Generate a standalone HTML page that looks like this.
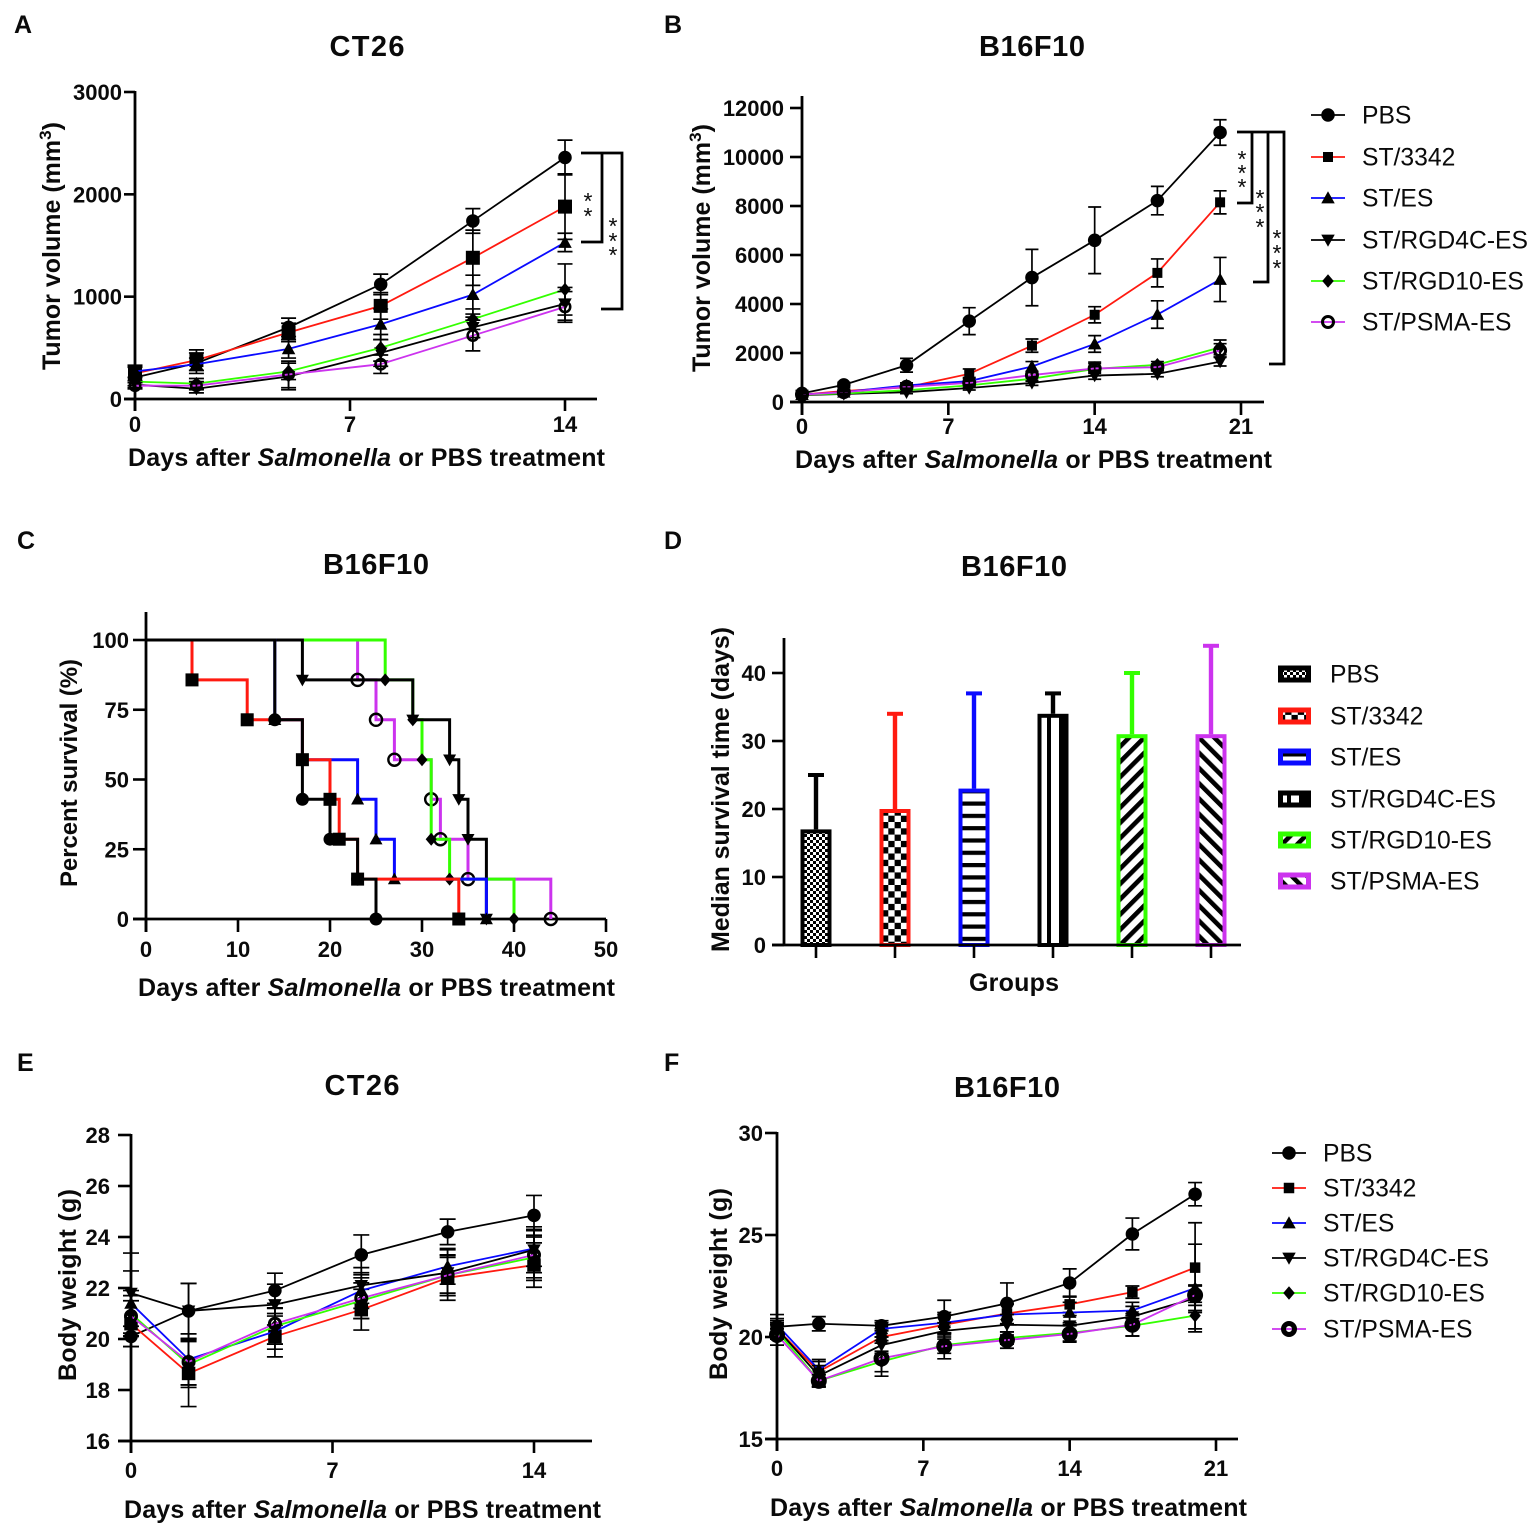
<!DOCTYPE html>
<html lang="en">
<head>
<meta charset="utf-8">
<title>Tumor growth, survival and body weight panels</title>
<style>
html,body{margin:0;padding:0;background:#fff;}
#figure{display:block;width:1535px;height:1528px;}
text{font-family:"Liberation Sans",Arial,sans-serif;fill:#0a0a0a;}
.letter{font-size:25px;font-weight:700;}
.title{font-size:29px;font-weight:700;text-anchor:middle;}
.axt{font-size:25px;font-weight:700;}
.tick{font-size:22px;font-weight:700;}
.leg{font-size:24.7px;}
.star{font-size:23px;text-anchor:middle;}
</style>
</head>
<body>
<svg id="figure" xmlns="http://www.w3.org/2000/svg" width="1535" height="1528" viewBox="0 0 1535 1528">
<defs>
<pattern id="p-fine" patternUnits="userSpaceOnUse" width="6" height="6"><rect width="6" height="6" fill="#fff"/><rect width="3" height="3" fill="#000"/><rect x="3" y="3" width="3" height="3" fill="#000"/></pattern>
<pattern id="p-check" patternUnits="userSpaceOnUse" width="12.6" height="12.6" x="882" y="3"><rect width="12.6" height="12.6" fill="#fff"/><rect width="6.3" height="6.3" fill="#000"/><rect x="6.3" y="6.3" width="6.3" height="6.3" fill="#000"/></pattern>
<pattern id="p-hor" patternUnits="userSpaceOnUse" width="12" height="12.3" y="2"><rect width="12" height="12.3" fill="#fff"/><rect width="12" height="4.2" fill="#000"/></pattern>
<pattern id="p-ver" patternUnits="userSpaceOnUse" width="40" height="10" x="1041"><rect width="40" height="10" fill="#fff"/><rect x="6" width="4" height="10" fill="#000"/><rect x="18" width="9" height="10" fill="#000"/></pattern>
<pattern id="p-up" patternUnits="userSpaceOnUse" width="10.8" height="10.8" patternTransform="rotate(45)"><rect width="10.8" height="10.8" fill="#fff"/><rect width="4.6" height="10.8" fill="#000"/></pattern>
<pattern id="p-down" patternUnits="userSpaceOnUse" width="10.8" height="10.8" patternTransform="rotate(-45)"><rect width="10.8" height="10.8" fill="#fff"/><rect width="4.6" height="10.8" fill="#000"/></pattern>
</defs>

<g id="static-text">
<text class="letter" x="14" y="33">A</text>
<text class="letter" x="664" y="33">B</text>
<text class="letter" x="17" y="549">C</text>
<text class="letter" x="664" y="549">D</text>
<text class="letter" x="17" y="1071">E</text>
<text class="letter" x="664" y="1071">F</text>

<text class="title" x="367" y="56" textLength="75">CT26</text>
<text class="title" x="1032" y="56" textLength="106">B16F10</text>
<text class="title" x="376" y="574" textLength="106">B16F10</text>
<text class="title" x="1014" y="576" textLength="106">B16F10</text>
<text class="title" x="362" y="1095" textLength="75">CT26</text>
<text class="title" x="1007" y="1097" textLength="106">B16F10</text>

<text class="axt" x="128" y="466" textLength="477">Days after <tspan font-style="italic">Salmonella</tspan> or PBS treatment</text>
<text class="axt" x="795" y="468" textLength="477">Days after <tspan font-style="italic">Salmonella</tspan> or PBS treatment</text>
<text class="axt" x="138" y="996" textLength="477">Days after <tspan font-style="italic">Salmonella</tspan> or PBS treatment</text>
<text class="axt" x="969" y="991" textLength="90">Groups</text>
<text class="axt" x="124" y="1518" textLength="477">Days after <tspan font-style="italic">Salmonella</tspan> or PBS treatment</text>
<text class="axt" x="770" y="1516" textLength="477">Days after <tspan font-style="italic">Salmonella</tspan> or PBS treatment</text>

<text class="axt" style="font-size:25px" transform="translate(60,370) rotate(-90)">Tumor volume (mm<tspan dy="-9" font-size="17">3</tspan><tspan dy="9">)</tspan></text>
<text class="axt" style="font-size:25px" transform="translate(710,372) rotate(-90)">Tumor volume (mm<tspan dy="-9" font-size="17">3</tspan><tspan dy="9">)</tspan></text>
<text class="axt" transform="translate(77,887) rotate(-90)" textLength="228" style="font-size:24px">Percent survival (%)</text>
<text class="axt" transform="translate(729,952) rotate(-90)" textLength="325">Median survival time (days)</text>
<text class="axt" transform="translate(76,1381) rotate(-90)" textLength="192">Body weight (g)</text>
<text class="axt" transform="translate(727,1380) rotate(-90)" textLength="192">Body weight (g)</text>

<text class="star" x="588" y="209">*</text>
<text class="star" x="588" y="224">*</text>
<text class="star" x="613" y="234">*</text>
<text class="star" x="613" y="249">*</text>
<text class="star" x="613" y="263">*</text>
<text class="star" x="1242" y="167">*</text>
<text class="star" x="1242" y="181">*</text>
<text class="star" x="1242" y="195">*</text>
<text class="star" x="1260" y="206">*</text>
<text class="star" x="1260" y="220">*</text>
<text class="star" x="1260" y="235">*</text>
<text class="star" x="1277" y="246">*</text>
<text class="star" x="1277" y="261">*</text>
<text class="star" x="1277" y="276">*</text>

<path d="M581 153H622V309H601M602 153V242H581" fill="none" stroke="#000" stroke-width="2.8"/>
<path d="M1237 132H1284V364H1269M1268 132V282H1253M1252 132V203H1237" fill="none" stroke="#000" stroke-width="2.8"/>
</g>

<g id="plot-root"></g>
</svg>

<script>
/* ---------- shared series labels ---------- */
const seriesNames = ['PBS', 'ST/3342', 'ST/ES', 'ST/RGD4C-ES', 'ST/RGD10-ES', 'ST/PSMA-ES'];

/* ---------- panel A: CT26 tumor volume ---------- */
const aDays = [0, 2, 5, 8, 11, 14];
const aXTicks = [0, 7, 14];
const aYTicks = [0, 1000, 2000, 3000];
const aPbs = [210, 350, 700, 1120, 1740, 2360];
const aSt3342 = [250, 380, 650, 910, 1380, 1880];
const aStEs = [270, 340, 490, 730, 1020, 1530];
const aRgd4c = [140, 100, 220, 450, 700, 930];
const aRgd10 = [170, 150, 270, 500, 780, 1070];
const aPsma = [130, 130, 240, 340, 620, 900];
const aPbsErr = [100, 100, 90, 100, 120, 170];
const aSt3342Err = [70, 100, 90, 130, 270, 320];
const aStEsErr = [60, 60, 90, 150, 190, 90];
const aRgd4cErr = [40, 40, 130, 130, 100, 160];
const aRgd10Err = [40, 50, 80, 130, 100, 250];
const aPsmaErr = [30, 40, 130, 90, 150, 150];

/* ---------- panel B: B16F10 tumor volume ---------- */
const bDays = [0, 2, 5, 8, 11, 14, 17, 20];
const bXTicks = [0, 7, 14, 21];
const bYTicks = [0, 2000, 4000, 6000, 8000, 10000, 12000];
const bPbs = [350, 700, 1500, 3300, 5080, 6600, 8220, 11000];
const bSt3342 = [300, 450, 600, 1150, 2300, 3560, 5270, 8150];
const bStEs = [300, 400, 680, 850, 1450, 2370, 3570, 5000];
const bRgd4c = [280, 330, 400, 570, 780, 1080, 1150, 1650];
const bRgd10 = [300, 350, 480, 680, 950, 1350, 1520, 2230];
const bPsma = [300, 400, 620, 780, 1100, 1370, 1420, 2100];
const bPbsErr = [100, 100, 280, 550, 1150, 1360, 580, 520];
const bSt3342Err = [50, 60, 100, 200, 270, 330, 570, 470];
const bStEsErr = [50, 60, 100, 150, 200, 340, 560, 900];
const bRgd4cErr = [40, 40, 60, 80, 100, 150, 120, 180];
const bRgd10Err = [40, 40, 60, 80, 100, 280, 130, 300];
const bPsmaErr = [40, 40, 60, 80, 100, 200, 130, 280];

/* ---------- panel C: survival (event day, percent after event) ---------- */
const cXTicks = [0, 10, 20, 30, 40, 50];
const cYTicks = [0, 25, 50, 75, 100];
const cPbsDays = [14, 17, 20, 23, 25];
const cPbsSurv = [71.4, 42.9, 28.6, 14.3, 0];
const cSt3342Days = [5, 11, 17, 20, 21, 23, 34];
const cSt3342Surv = [85.7, 71.4, 57.1, 42.9, 28.6, 14.3, 0];
const cStEsDays = [14, 17, 23, 25, 27, 37];
const cStEsSurv = [71.4, 57.1, 42.9, 28.6, 14.3, 0];
const cRgd4cDays = [17, 29, 33, 34, 35, 37];
const cRgd4cSurv = [85.7, 71.4, 57.1, 42.9, 28.6, 0];
const cRgd10Days = [26, 29, 30, 31, 33, 40];
const cRgd10Surv = [85.7, 71.4, 57.1, 28.6, 14.3, 0];
const cPsmaDays = [23, 25, 27, 31, 32, 35, 44];
const cPsmaSurv = [85.7, 71.4, 57.1, 42.9, 28.6, 14.3, 0];

/* ---------- panel D: median survival bars ---------- */
const dYTicks = [0, 10, 20, 30, 40];
const dMedians = [17, 20, 23, 34, 31, 31];
const dUpperErr = [8, 14, 14, 3, 9, 13];

/* ---------- panel E: CT26 body weight ---------- */
const eDays = [0, 2, 5, 8, 11, 14];
const eXTicks = [0, 7, 14];
const eYTicks = [16, 18, 20, 22, 24, 26, 28];
const ePbs = [20.1, 21.1, 21.9, 23.3, 24.2, 24.85];
const eSt3342 = [20.6, 18.65, 20.1, 21.15, 22.4, 22.9];
const eStEs = [21.4, 19.2, 20.3, 21.9, 22.85, 23.55];
const eRgd4c = [21.8, 21.1, 21.35, 22.1, 22.6, 23.5];
const eRgd10 = [21.0, 19.0, 20.5, 21.5, 22.5, 23.2];
const ePsma = [20.9, 19.1, 20.6, 21.6, 22.5, 23.3];
const ePbsErr = [0.4, 1.08, 0.68, 0.78, 0.5, 0.78];
const eSt3342Err = [0.9, 1.3, 0.8, 0.8, 0.88, 0.87];
const eStEsErr = [1.27, 1.0, 0.7, 0.7, 0.7, 0.7];
const eRgd4cErr = [1.57, 1.08, 0.8, 0.7, 0.9, 0.9];
const eRgd10Err = [0.9, 0.9, 0.7, 0.7, 0.7, 0.8];
const ePsmaErr = [0.8, 0.9, 0.8, 0.8, 0.8, 1.0];

/* ---------- panel F: B16F10 body weight ---------- */
const fDays = [0, 2, 5, 8, 11, 14, 17, 20];
const fXTicks = [0, 7, 14, 21];
const fYTicks = [15, 20, 25, 30];
const fPbs = [20.5, 20.65, 20.55, 21.0, 21.65, 22.65, 25.05, 27.0];
const fSt3342 = [20.4, 18.3, 20.0, 20.6, 21.15, 21.6, 22.2, 23.4];
const fStEs = [20.6, 18.4, 20.4, 20.7, 21.1, 21.2, 21.3, 22.4];
const fRgd4c = [20.4, 18.1, 19.6, 20.3, 20.6, 20.55, 21.0, 21.9];
const fRgd10 = [20.3, 17.85, 18.8, 19.6, 19.95, 20.2, 20.55, 21.05];
const fPsma = [20.1, 17.85, 18.95, 19.55, 19.85, 20.15, 20.6, 22.05];
const fPbsErr = [0.1, 0.35, 0.15, 0.8, 1.0, 0.69, 0.78, 0.57];
const fSt3342Err = [0.4, 0.5, 0.3, 0.5, 0.5, 0.4, 0.3, 2.2];
const fStEsErr = [0.5, 0.5, 0.4, 0.5, 0.5, 0.5, 0.4, 2.15];
const fRgd4cErr = [0.5, 0.5, 0.4, 0.4, 0.5, 0.5, 0.5, 0.6];
const fRgd10Err = [0.4, 0.3, 0.5, 0.4, 0.3, 0.4, 0.5, 0.65];
const fPsmaErr = [0.5, 0.3, 0.87, 0.62, 0.4, 0.4, 0.55, 0.5];

/* ---------- styling (not data) ---------- */
const lineColors = ['#000000', '#ff1a10', '#0a0aff', '#000000', '#33ff00', '#cc33ee'];
const markerKinds = ['circle', 'square', 'up', 'down', 'diamond', 'ring'];
const barPatterns = ['p-fine', 'p-check', 'p-hor', 'p-ver', 'p-up', 'p-down'];
const NS = 'http://www.w3.org/2000/svg';
const plotRoot = document.getElementById('plot-root');

function make(tag, attrs, parent) {
  const el = document.createElementNS(NS, tag);
  for (const k in attrs) el.setAttribute(k, attrs[k]);
  parent.appendChild(el);
  return el;
}

function linearScale(d0, r0, d1, r1) {
  return v => r0 + (v - d0) * (r1 - r0) / (d1 - d0);
}

function slug(s) {
  return s.toLowerCase().replace(/[^a-z0-9]+/g, '-');
}

function drawMarker(parent, kind, cx, cy, size, ringWidth, label) {
  const h = size / 2;
  let el;
  if (kind === 'circle') {
    el = make('circle', { cx: cx, cy: cy, r: h, fill: '#000' }, parent);
  } else if (kind === 'ring') {
    el = make('circle', { cx: cx, cy: cy, r: h - ringWidth / 2, fill: 'none', stroke: '#000', 'stroke-width': ringWidth }, parent);
  } else if (kind === 'square') {
    el = make('rect', { x: cx - h, y: cy - h, width: size, height: size, fill: '#000' }, parent);
  } else if (kind === 'up') {
    el = make('path', { d: 'M' + cx + ' ' + (cy - h) + 'L' + (cx + h) + ' ' + (cy + h * 0.8) + 'L' + (cx - h) + ' ' + (cy + h * 0.8) + 'Z', fill: '#000' }, parent);
  } else if (kind === 'down') {
    el = make('path', { d: 'M' + cx + ' ' + (cy + h) + 'L' + (cx + h) + ' ' + (cy - h * 0.8) + 'L' + (cx - h) + ' ' + (cy - h * 0.8) + 'Z', fill: '#000' }, parent);
  } else {
    el = make('path', { d: 'M' + cx + ' ' + (cy - h) + 'L' + (cx + h * 0.85) + ' ' + cy + 'L' + cx + ' ' + (cy + h) + 'L' + (cx - h * 0.85) + ' ' + cy + 'Z', fill: '#000' }, parent);
  }
  
  
  return el;
}

function drawAxes(panel, opt) {
  const g = make('g', {}, plotRoot);
  
  
  const yAxis = make('line', { x1: opt.x0, x2: opt.x0, y1: opt.yTop, y2: opt.y0 + opt.xTickLen, stroke: '#000', 'stroke-width': 2.8 }, g);
  
  
  const xAxis = make('line', { x1: opt.x0 - opt.yTickLen, x2: opt.xEnd, y1: opt.y0, y2: opt.y0, stroke: '#000', 'stroke-width': 2.8 }, g);
  
  
  opt.yTicks.forEach(t => {
    const py = opt.sy(t);
    const tk = make('line', { x1: opt.x0 - opt.yTickLen, x2: opt.x0, y1: py, y2: py, stroke: '#000', 'stroke-width': 2.6 }, g);
    
    
    const lb = make('text', { x: opt.x0 - opt.yLabelGap, y: py + 8, 'text-anchor': 'end', class: 'tick' }, g);
    lb.textContent = t;
    
    
  });
  (opt.xTicks || []).forEach(t => {
    const px = opt.sx(t);
    const tk = make('line', { x1: px, x2: px, y1: opt.y0, y2: opt.y0 + opt.xTickLen, stroke: '#000', 'stroke-width': 2.6 }, g);
    
    
    const lb = make('text', { x: px, y: opt.y0 + opt.xLabelDy, 'text-anchor': 'middle', class: 'tick' }, g);
    lb.textContent = t;
    
    
  });
}

function drawLineSeries(panel, days, values, errors, sx, sy, look) {
  values.forEach((vals, i) => {
    const name = slug(seriesNames[i]);
    const g = make('g', {}, plotRoot);
    
    
    const pts = vals.map((v, j) => sx(days[j]) + ',' + sy(v)).join(' ');
    const line = make('polyline', { points: pts, fill: 'none', stroke: lineColors[i], 'stroke-width': look.lineWidth }, g);
    
    
    vals.forEach((v, j) => {
      const x = sx(days[j]);
      const top = sy(v + errors[i][j]);
      const bot = sy(v - errors[i][j]);
      const c = look.capWidth / 2;
      const eb = make('path', {
        d: 'M' + x + ' ' + top + 'V' + bot + 'M' + (x - c) + ' ' + top + 'H' + (x + c) + 'M' + (x - c) + ' ' + bot + 'H' + (x + c),
        fill: 'none', stroke: '#000', 'stroke-width': 1.7
      }, g);
      
      
      const size = markerKinds[i] === 'square' ? look.squareSize : markerKinds[i] === 'ring' ? look.ringSize : look.markerSize;
      drawMarker(g, markerKinds[i], x, sy(v), size, look.ringWidth, 'point-' + name);
    });
  });
}

function drawLineLegend(panel, lineX0, lineX1, textX, ys, look) {
  const g = make('g', {}, plotRoot);
  
  
  seriesNames.forEach((label, i) => {
    const name = slug(label);
    const ln = make('line', { x1: lineX0, x2: lineX1, y1: ys[i], y2: ys[i], stroke: lineColors[i], 'stroke-width': 1.7 }, g);
    
    
    const size = markerKinds[i] === 'square' ? look.squareSize : markerKinds[i] === 'ring' ? look.ringSize : look.markerSize;
    drawMarker(g, markerKinds[i], (lineX0 + lineX1) / 2, ys[i], size, look.ringWidth, 'legend-marker-' + name);
    const t = make('text', { x: textX, y: ys[i] + 8.5, class: 'leg' }, g);
    t.textContent = label;
    
    
  });
}

/* ---------- panel A ---------- */
const axA = linearScale(0, 135, 14, 565);
const ayA = linearScale(0, 399, 3000, 92);
const lookA = { lineWidth: 1.8, capWidth: 15, markerSize: 13.5, squareSize: 14, ringSize: 13, ringWidth: 2.6 };
drawLineSeries('a', aDays, [aPbs, aSt3342, aStEs, aRgd4c, aRgd10, aPsma],
  [aPbsErr, aSt3342Err, aStEsErr, aRgd4cErr, aRgd10Err, aPsmaErr], axA, ayA, lookA);
drawAxes('a', { x0: 135, y0: 399, xEnd: 597, yTop: 91, xTickLen: 12, yTickLen: 11, yLabelGap: 13, xLabelDy: 33, sx: axA, sy: ayA, xTicks: aXTicks, yTicks: aYTicks });

/* ---------- panel B ---------- */
const axB = linearScale(0, 802, 21, 1241);
const ayB = linearScale(0, 402, 12000, 108);
const lookB = { lineWidth: 1.8, capWidth: 13, markerSize: 13.5, squareSize: 10, ringSize: 14, ringWidth: 3 };
drawLineSeries('b', bDays, [bPbs, bSt3342, bStEs, bRgd4c, bRgd10, bPsma],
  [bPbsErr, bSt3342Err, bStEsErr, bRgd4cErr, bRgd10Err, bPsmaErr], axB, ayB, lookB);
drawAxes('b', { x0: 802, y0: 402, xEnd: 1264, yTop: 96, xTickLen: 13, yTickLen: 12, yLabelGap: 18, xLabelDy: 32, sx: axB, sy: ayB, xTicks: bXTicks, yTicks: bYTicks });
drawLineLegend('b', 1311, 1345, 1362, [115, 157, 198, 240, 281, 322], lookB);

/* ---------- panel C ---------- */
const axC = linearScale(0, 146, 50, 606);
const ayC = linearScale(0, 919, 100, 640);
drawAxes('c', { x0: 146, y0: 919, xEnd: 606, yTop: 612, xTickLen: 13, yTickLen: 13, yLabelGap: 17, xLabelDy: 38, sx: axC, sy: ayC, xTicks: cXTicks, yTicks: cYTicks });
const cAllDays = [cPbsDays, cSt3342Days, cStEsDays, cRgd4cDays, cRgd10Days, cPsmaDays];
const cAllSurv = [cPbsSurv, cSt3342Surv, cStEsSurv, cRgd4cSurv, cRgd10Surv, cPsmaSurv];
const cLineColors = ['#000000', '#ff1a10', '#0a0aff', '#000000', '#33ff00', '#cc33ee'];
[5, 4, 3, 2, 1, 0].forEach(i => {
  const name = slug(seriesNames[i]);
  const g = make('g', {}, plotRoot);
  
  
  let d = 'M' + axC(0) + ' ' + ayC(100);
  cAllDays[i].forEach((t, j) => {
    d += 'H' + axC(t) + 'V' + ayC(cAllSurv[i][j]);
  });
  const step = make('path', { d: d, fill: 'none', stroke: cLineColors[i], 'stroke-width': 3 }, g);
  
  
  cAllDays[i].forEach((t, j) => {
    const kind = markerKinds[i];
    const size = kind === 'ring' ? 14.5 : 13;
    drawMarker(g, kind, axC(t), ayC(cAllSurv[i][j]), size, 2.4, 'survival-point-' + name);
  });
});

/* ---------- panel D ---------- */
const ayD = linearScale(0, 945, 40, 673);
const barCentersX = i => 816 + i * 79;
const barColors = ['#000000', '#ff1a10', '#0a0aff', '#000000', '#33ff00', '#cc33ee'];
dMedians.forEach((m, i) => {
  const name = slug(seriesNames[i]);
  const cx = barCentersX(i);
  const g = make('g', {}, plotRoot);
  
  
  const topY = ayD(m + dUpperErr[i]);
  const stem = make('line', { x1: cx, x2: cx, y1: ayD(m), y2: topY, stroke: barColors[i], 'stroke-width': 4.4 }, g);
  
  
  const cap = make('line', { x1: cx - 8, x2: cx + 8, y1: topY, y2: topY, stroke: barColors[i], 'stroke-width': 4 }, g);
  
  
  const bar = make('rect', { x: cx - 13.5, y: ayD(m) + 2, width: 27, height: 945 - ayD(m) - 2, fill: 'url(#' + barPatterns[i] + ')', stroke: barColors[i], 'stroke-width': 4 }, g);
  
  
  const tk = make('line', { x1: cx, x2: cx, y1: 945, y2: 958, stroke: '#000', 'stroke-width': 2.6 }, g);
  
  
});
drawAxes('d', { x0: 784, y0: 945, xEnd: 1241, yTop: 638, xTickLen: 0, yTickLen: 12, yLabelGap: 18, xLabelDy: 30, sx: v => v, sy: ayD, xTicks: [], yTicks: dYTicks });
const legendD = make('g', {}, plotRoot);


const legendDYs = [674, 716, 757, 799, 840, 881];
seriesNames.forEach((label, i) => {
  const name = slug(label);
  const sw = make('rect', { x: 1280.5, y: legendDYs[i] - 6, width: 28, height: 12, fill: 'url(#' + barPatterns[i] + ')', stroke: barColors[i], 'stroke-width': 5 }, legendD);
  
  
  const t = make('text', { x: 1330, y: legendDYs[i] + 8.5, class: 'leg' }, legendD);
  t.textContent = label;
  
  
});

/* ---------- panel E ---------- */
const axE = linearScale(0, 131, 14, 534);
const ayE = linearScale(16, 1441, 28, 1135);
const lookE = { lineWidth: 1.8, capWidth: 16, markerSize: 13.5, squareSize: 13.5, ringSize: 14, ringWidth: 3 };
drawLineSeries('e', eDays, [ePbs, eSt3342, eStEs, eRgd4c, eRgd10, ePsma],
  [ePbsErr, eSt3342Err, eStEsErr, eRgd4cErr, eRgd10Err, ePsmaErr], axE, ayE, lookE);
drawAxes('e', { x0: 131, y0: 1441, xEnd: 592, yTop: 1134, xTickLen: 12, yTickLen: 13, yLabelGap: 21, xLabelDy: 37, sx: axE, sy: ayE, xTicks: eXTicks, yTicks: eYTicks });

/* ---------- panel F ---------- */
const axF = linearScale(0, 777, 21, 1216);
const ayF = linearScale(15, 1439, 30, 1133);
const lookF = { lineWidth: 1.8, capWidth: 14, markerSize: 13.5, squareSize: 10.5, ringSize: 16, ringWidth: 5 };
drawLineSeries('f', fDays, [fPbs, fSt3342, fStEs, fRgd4c, fRgd10, fPsma],
  [fPbsErr, fSt3342Err, fStEsErr, fRgd4cErr, fRgd10Err, fPsmaErr], axF, ayF, lookF);
drawAxes('f', { x0: 777, y0: 1439, xEnd: 1238, yTop: 1132, xTickLen: 12, yTickLen: 12, yLabelGap: 14, xLabelDy: 37, sx: axF, sy: ayF, xTicks: fXTicks, yTicks: fYTicks });
drawLineLegend('f', 1272, 1306, 1323, [1153, 1188, 1223, 1258, 1293, 1329], lookF);
</script>
</body>
</html>
